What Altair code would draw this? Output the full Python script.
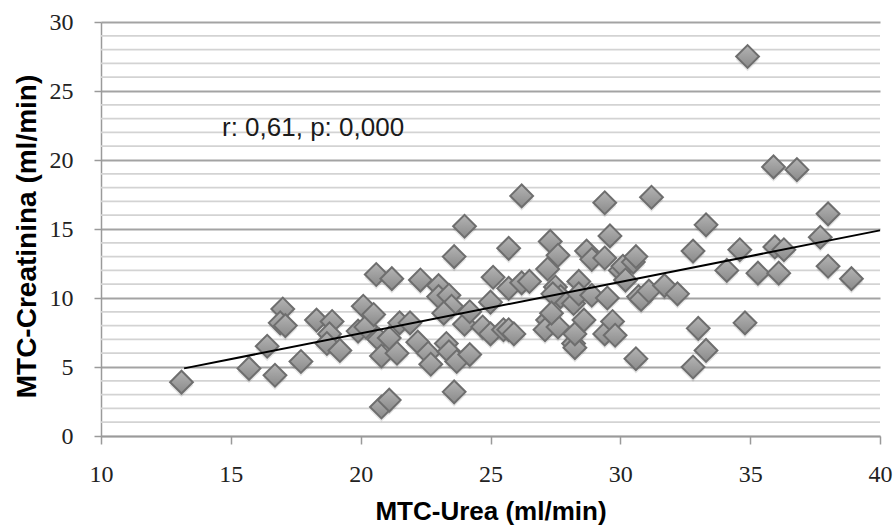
import altair as alt
import pandas as pd

# MTC-Urea (ml/min) and MTC-Creatinina (ml/min)
urea = [13.1, 15.7, 16.4, 16.7, 17.7, 17.0, 16.9, 17.1, 18.3, 18.9,
        18.8, 18.7, 19.2, 19.9, 20.2, 20.1, 20.5, 20.6, 21.2, 20.7,
        20.8, 21.1, 21.4, 21.5, 21.9, 22.2, 22.6, 22.7, 22.3, 23.0,
        23.0, 23.4, 23.5, 23.2, 23.3, 23.4, 23.7, 23.6, 20.8, 21.1,
        23.6, 24.0, 24.0, 24.2, 24.2, 24.7, 25.0, 25.0, 25.1, 25.5,
        25.7, 25.9, 25.7, 25.7, 26.2, 26.5, 26.2, 27.3, 27.6, 27.2,
        27.5, 27.7, 27.4, 27.2, 27.1, 27.6, 27.35, 28.2, 28.4, 28.4,
        28.2, 28.25, 28.25, 28.6, 28.7, 28.9, 28.9, 29.4, 29.6, 29.4,
        29.5, 29.4, 29.7, 29.8, 30.0, 30.1, 30.2, 30.5, 30.6, 30.7,
        30.8, 30.6, 31.1, 31.2, 31.7, 32.2, 32.8, 33.3, 33.0, 33.3,
        32.8, 34.1, 34.6, 34.8, 34.9, 35.3, 35.9, 36.8, 35.95, 36.3,
        36.1, 37.7, 38.0, 38.0, 38.9]
creat = [3.9, 4.9, 6.5, 4.4, 5.4, 9.2, 8.2, 8.0, 8.4, 8.3,
         7.4, 6.7, 6.2, 7.6, 7.9, 9.4, 8.8, 11.7, 11.4, 7.0,
         5.8, 7.1, 6.0, 8.2, 8.2, 6.8, 6.0, 5.2, 11.3, 10.9,
         10.1, 10.2, 9.4, 8.9, 6.7, 6.1, 5.4, 3.2, 2.1, 2.6,
         13.0, 15.2, 8.1, 9.0, 5.9, 7.9, 7.4, 9.7, 11.5, 7.7,
         7.7, 7.4, 13.6, 10.7, 11.1, 11.2, 17.4, 14.1, 13.1, 12.1,
         10.8, 10.1, 10.3, 8.4, 7.7, 7.9, 8.9, 9.6, 11.2, 10.3,
         6.7, 6.4, 7.4, 8.4, 13.4, 12.8, 10.2, 12.9, 14.5, 16.9,
         10.0, 7.4, 8.3, 7.3, 12.0, 12.3, 11.3, 12.6, 13.0, 10.1,
         9.9, 5.6, 10.5, 17.3, 10.9, 10.3, 13.4, 15.3, 7.8, 6.2,
         5.0, 12.0, 13.5, 8.2, 27.5, 11.8, 19.5, 19.3, 13.7, 13.5,
         11.8, 14.4, 16.1, 12.3, 11.4]

# Trend line end points
trend_urea = [13.2, 40.0]
trend_creat = [4.9, 14.9]

x_ticks = [10, 15, 20, 25, 30, 35, 40]
y_ticks = [0, 5, 10, 15, 20, 25, 30]
y_minor = [v for v in range(0, 31) if v % 5 != 0]

annot_text = ["r: 0,61, p: 0,000"]
annot_x = [14.66]
annot_y = [22.3]

df = pd.DataFrame({"urea": urea, "creat": creat})
trend = pd.DataFrame({"urea": trend_urea, "creat": trend_creat})
minor = pd.DataFrame({"creat": y_minor})
annot = pd.DataFrame({"urea": annot_x, "creat": annot_y, "t": annot_text})

xscale = alt.Scale(domain=[10, 40], nice=False, zero=False)
yscale = alt.Scale(domain=[0, 30], nice=False, zero=False)

xaxis = alt.Axis(
    values=x_ticks, grid=False, title="MTC-Urea (ml/min)",
    domainColor="#9a9a9a", domainWidth=1.5,
    tickColor="#9a9a9a", tickWidth=1.5, tickSize=8,
    labelFont="Liberation Serif", labelFontSize=24, labelColor="#222222",
    labelPadding=18, labelFlush=False,
    titleFont="Liberation Sans", titleFontSize=26, titleFontWeight="bold",
    titleColor="#000000", titleBaseline="alphabetic", titleY=83,
)
yaxis = alt.Axis(
    values=y_ticks, grid=True, gridColor="#a3a3a3", gridWidth=1.8,
    title="MTC-Creatinina (ml/min)",
    domainColor="#9a9a9a", domainWidth=1.5,
    tickColor="#9a9a9a", tickWidth=1.5, tickSize=7,
    labelFont="Liberation Serif", labelFontSize=24, labelColor="#222222",
    labelPadding=21, labelFlush=False,
    titleFont="Liberation Sans", titleFontSize=28, titleFontWeight="bold",
    titleColor="#000000", titleBaseline="alphabetic",
    titleX=-66, titleY=214, titleAngle=270, titleAlign="center",
)

X = alt.X("urea:Q", scale=xscale, axis=xaxis)
Y = alt.Y("creat:Q", scale=yscale, axis=yaxis)

minor_layer = alt.Chart(minor).mark_rule(color="#d3d3d3", strokeWidth=1.8).encode(
    y=Y
)

shadow = alt.Chart(df).mark_point(
    shape="diamond", filled=True, size=560, color="#000000", opacity=0.10
).encode(x=X, y=Y, yOffset=alt.value(3))

grad = alt.Gradient(
    gradient="linear",
    stops=[alt.GradientStop(color="#b4b4b4", offset=0),
           alt.GradientStop(color="#8a8a8a", offset=1)],
    x1=0, x2=0, y1=0, y2=1,
)

points = alt.Chart(df).mark_point(
    shape="diamond", filled=True, size=520, fill=grad,
    stroke="#6e6e6e", strokeWidth=2, opacity=1, fillOpacity=1,
).encode(x=X, y=Y)

line = alt.Chart(trend).mark_line(color="#000000", strokeWidth=2).encode(x=X, y=Y)

text = alt.Chart(annot).mark_text(
    align="left", baseline="middle", font="Liberation Sans", fontSize=26,
    color="#1a1a1a",
).encode(x=X, y=Y, text="t:N")

chart = alt.layer(minor_layer, shadow, points, line, text).properties(
    width=779, height=414,
    autosize=alt.AutoSizeParams(type="none"),
    padding={"left": 101, "top": 22, "right": 16, "bottom": 92},
    background="#ffffff",
).configure_view(stroke=None)

chart.save("out.html", embed_options={"renderer": "svg", "actions": False})
